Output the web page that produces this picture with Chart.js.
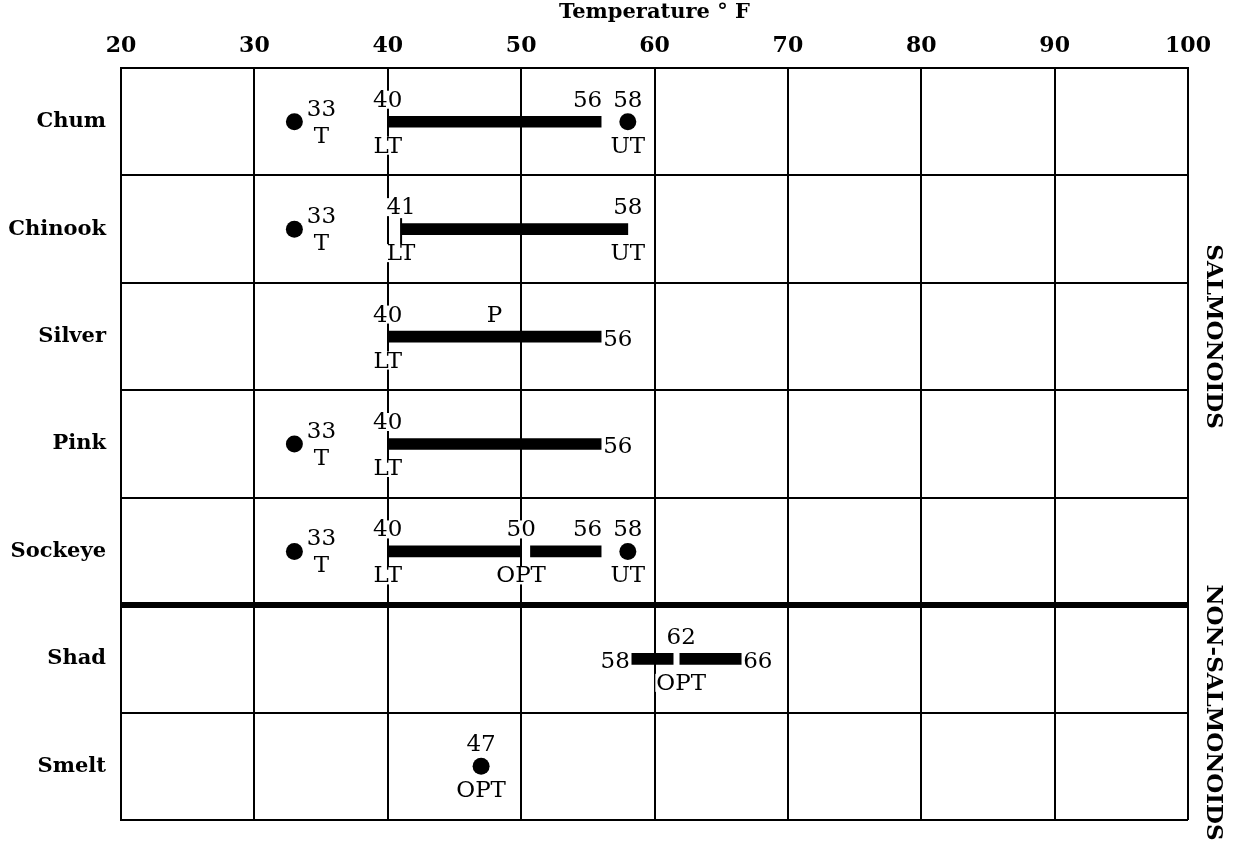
<!DOCTYPE html>
<html>
<head>
<meta charset="utf-8">
<script src="https://cdn.jsdelivr.net/npm/chart.js@4"></script>
<style>
  html, body { margin: 0; padding: 0; background: #fff; }
  #wrap { width: 1242px; height: 843px; }
</style>
</head>
<body>
<div id="wrap"><canvas id="fishChart" width="1242" height="843"></canvas></div>
<script>
const categories = ['Chum', 'Chinook', 'Silver', 'Pink', 'Sockeye', 'Shad', 'Smelt']
const xTicks = [20, 30, 40, 50, 60, 70, 80, 90, 100]

// bar pieces (start / end, in °F); second piece where the bar is broken
const barStart = [40, 41, 40, 40, 40, 58.3, null]
const barEnd = [56, 58, 56, 56, 50, 61.4, null]
const barStart2 = [null, null, null, null, 50.7, 61.9, null]
const barEnd2 = [null, null, null, null, 56, 66.5, null]

// round markers
const dotCats = ['Chum', 'Chinook', 'Pink', 'Sockeye', 'Chum', 'Sockeye', 'Smelt']
const dotTemps = [33, 33, 33, 33, 58, 58, 47]

// short start ticks
const tickCats = ['Chinook']
const tickTemps = [41]

// text notes
const noteCats = [
    'Chum', 'Chum', 'Chum', 'Chum', 'Chum', 'Chum', 'Chum',
    'Chinook', 'Chinook', 'Chinook', 'Chinook', 'Chinook', 'Chinook',
    'Silver', 'Silver', 'Silver', 'Silver',
    'Pink', 'Pink', 'Pink', 'Pink', 'Pink',
    'Sockeye', 'Sockeye', 'Sockeye', 'Sockeye', 'Sockeye', 'Sockeye', 'Sockeye', 'Sockeye', 'Sockeye',
    'Shad', 'Shad', 'Shad', 'Shad',
    'Smelt', 'Smelt'
]
const noteTemps = [
    33, 33, 40, 40, 56, 58, 58,
    33, 33, 41, 41, 58, 58,
    40, 40, 48, 56,
    33, 33, 40, 40, 56,
    33, 33, 40, 40, 50, 50, 56, 58, 58,
    58.3, 66.5, 62, 62,
    47, 47
]
const noteTexts = [
    '33', 'T', '40', 'LT', '56', '58', 'UT',
    '33', 'T', '41', 'LT', '58', 'UT',
    '40', 'LT', 'P', '56',
    '33', 'T', '40', 'LT', '56',
    '33', 'T', '40', 'LT', '50', 'OPT', '56', '58', 'UT',
    '58', '66', '62', 'OPT',
    '47', 'OPT'
]
const notePlaces = [
    'ne', 'se', 'n', 's', 'nw', 'n', 's',
    'ne', 'se', 'n', 's', 'n', 's',
    'n', 's', 'n', 'e',
    'ne', 'se', 'n', 's', 'e',
    'ne', 'se', 'n', 's', 'n', 's', 'nw', 'n', 's',
    'w', 'e', 'n', 's',
    'n', 's'
]

const groupNames = ['SALMONOIDS', 'NON-SALMONOIDS']
const groupFirst = [0, 5]
const groupLast = [4, 6]

const serif = '"DejaVu Serif", "Liberation Serif", serif'

function pairs(a, b){
    return a.map((v, i) => (v == null ? null : [v, b[i]]))
}

const notesPlugin = {
    id: 'notes',
    afterDatasetsDraw(chart){
        const ctx = chart.ctx
        const xs = chart.scales.x
        const ys = chart.scales.y
        ctx.save()

        // start ticks
        ctx.strokeStyle = '#000'
        ctx.lineWidth = 2
        tickCats.forEach((c, i) => {
            const x = xs.getPixelForValue(tickTemps[i])
            const y = ys.getPixelForValue(categories.indexOf(c)) + 2
            ctx.beginPath()
            ctx.moveTo(x, y - 13)
            ctx.lineTo(x, y + 13)
            ctx.stroke()
        })

        ctx.font = '23px ' + serif
        ctx.textBaseline = 'middle'
        noteCats.forEach((c, i) => {
            const x = xs.getPixelForValue(noteTemps[i])
            const y = ys.getPixelForValue(categories.indexOf(c)) + 2
            const place = notePlaces[i]
            const txt = noteTexts[i]
            const w = ctx.measureText(txt).width
            let tx = x, ty = y
            if(place == 'n'){ ty = y - 24 }
            else if(place == 's'){ ty = y + 22 }
            else if(place == 'ne'){ tx = x + 27; ty = y - 15 }
            else if(place == 'se'){ tx = x + 27; ty = y + 12 }
            else if(place == 'nw'){ tx = x - w / 2 + 1; ty = y - 24 }
            else if(place == 'e'){ tx = x + 2 + w / 2 }
            else if(place == 'w'){ tx = x - 2 - w / 2 }
            ctx.fillStyle = '#fff'
            ctx.fillRect(tx - w / 2 - 1, ty - 9, w + 2, 18)
            ctx.fillStyle = '#000'
            ctx.textAlign = 'center'
            ctx.fillText(txt, tx, ty + 1)
        })

        // group names on the right
        ctx.font = 'bold 23px ' + serif
        ctx.textAlign = 'center'
        ctx.textBaseline = 'middle'
        groupNames.forEach((g, i) => {
            const a = groupFirst[i] == 0 ? chart.chartArea.top :
                (ys.getPixelForValue(groupFirst[i]) + ys.getPixelForValue(groupFirst[i] - 1)) / 2
            const b = groupLast[i] == categories.length - 1 ? chart.chartArea.bottom :
                (ys.getPixelForValue(groupLast[i]) + ys.getPixelForValue(groupLast[i] + 1)) / 2
            ctx.save()
            ctx.translate(chart.chartArea.right + 25, (a + b) / 2)
            ctx.rotate(Math.PI / 2)
            ctx.fillText(g, 0, 0)
            ctx.restore()
        })
        ctx.restore()
    }
}

function initChart(){
    const ctx = document.getElementById('fishChart').getContext('2d')

    new Chart(ctx, {
        type: 'bar',
        data: {
            labels: categories,
            datasets: [
                {
                    data: pairs(barStart, barEnd),
                    backgroundColor: '#000',
                    barThickness: 11,
                    grouped: false
                },
                {
                    data: pairs(barStart2, barEnd2),
                    backgroundColor: '#000',
                    barThickness: 11,
                    grouped: false
                },
                {
                    type: 'scatter',
                    data: dotCats.map((c, i) => ({ x: dotTemps[i], y: c })),
                    pointRadius: 8.5,
                    pointBackgroundColor: '#000',
                    pointBorderWidth: 0
                }
            ]
        },
        options: {
            indexAxis: 'y',
            responsive: false,
            animation: false,
            layout: { padding: { left: 0, right: 54, top: 0, bottom: 23 } },
            plugins: {
                legend: { display: false },
                tooltip: { enabled: false }
            },
            scales: {
                x: {
                    type: 'linear',
                    position: 'top',
                    min: 20,
                    max: 100,
                    afterBuildTicks: axis => { axis.ticks = xTicks.map(v => ({ value: v })) },
                    afterFit: axis => { axis.height = 68 },
                    ticks: {
                        color: '#000',
                        font: { family: serif, size: 22, weight: 'bold' },
                        padding: 9,
                        maxRotation: 0
                    },
                    grid: { color: '#000', lineWidth: 2, drawTicks: false },
                    border: { color: '#000', width: 2 },
                    title: {
                        display: true,
                        text: 'Temperature ° F',
                        color: '#000',
                        font: { family: serif, size: 21, weight: 'bold' },
                        padding: { top: 0, bottom: 0 }
                    }
                },
                y: {
                    type: 'category',
                    afterFit: axis => {
                        axis.width = 121
                        axis.paddingTop = 0
                        axis.paddingBottom = 0
                    },
                    ticks: {
                        color: '#000',
                        font: { family: serif, size: 21, weight: 'bold' },
                        padding: 15
                    },
                    grid: {
                        color: '#000',
                        offset: true,
                        drawTicks: false,
                        lineWidth: c => (c.index == 5 ? 6 : 2)
                    },
                    border: { color: '#000', width: 2 }
                }
            }
        },
        plugins: [notesPlugin]
    })
}

initChart()
</script>
</body>
</html>
